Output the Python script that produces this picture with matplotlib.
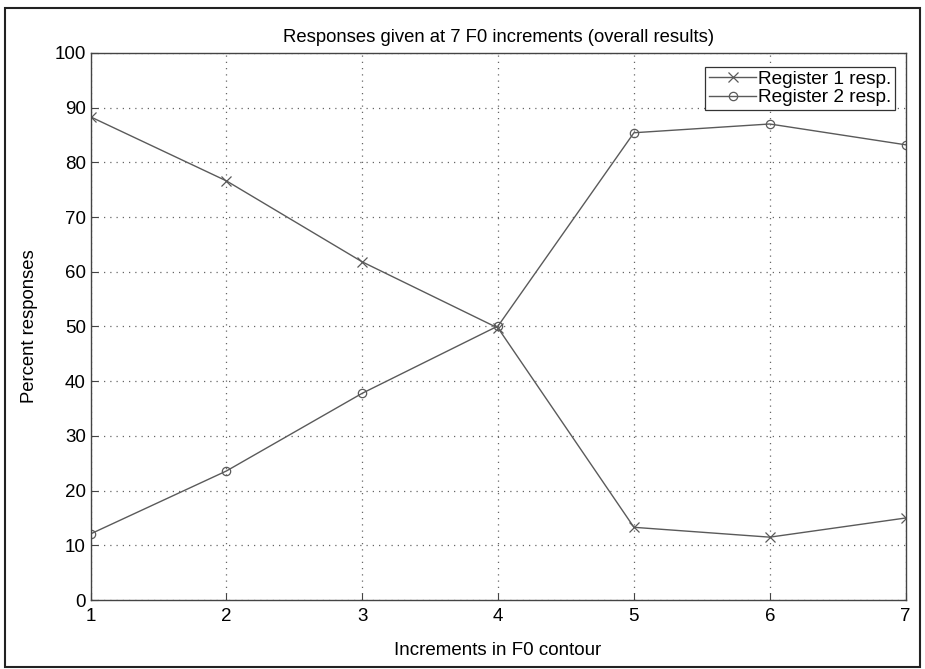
import matplotlib.pyplot as plt
from matplotlib.patches import Rectangle

plt.rcParams['font.family'] = ['Liberation Sans', 'DejaVu Sans']

# Percent responses at each F0 increment
increments = [1, 2, 3, 4, 5, 6, 7]
register1 = [88.3, 76.6, 61.8, 49.7, 13.3, 11.5, 15.0]
register2 = [12.1, 23.6, 37.8, 50.1, 85.4, 87.0, 83.2]

fig = plt.figure(figsize=(9.25, 6.69), dpi=100)
ax = fig.add_axes([0.098, 0.103, 0.881, 0.818])

line_col = '#5a5a5a'
ax.plot(increments, register1, color=line_col, lw=1.0, marker='x', ms=7,
        mew=0.9, label='Register 1 resp.')
ax.plot(increments, register2, color=line_col, lw=1.0, marker='o', ms=6,
        mfc='none', mew=0.9, label='Register 2 resp.')

ax.set_xlim(1, 7)
ax.set_ylim(0, 100)
ax.set_xticks(increments)
ax.set_yticks(range(0, 101, 10))
ax.tick_params(direction='in', length=5, labelsize=13.5, color='#444444')
ax.tick_params(axis='x', pad=6)
ax.grid(True, linestyle=(0, (1, 4)), color='#666666', lw=0.9)
for s in ax.spines.values():
    s.set_color('#444444')
    s.set_linewidth(1.0)

ax.set_title('Responses given at 7 F0 increments (overall results)', fontsize=13.3, pad=8)
ax.set_xlabel('Increments in F0 contour', fontsize=13.5, labelpad=12)
ax.set_ylabel('Percent responses', fontsize=13.3, labelpad=12)

leg = ax.legend(loc='upper right', bbox_to_anchor=(0.998, 0.99), fontsize=13.7,
                fancybox=False, framealpha=1, edgecolor='#333333',
                handlelength=2.5, handletextpad=0.1, borderpad=0.2,
                labelspacing=0.05, borderaxespad=0.45)
leg.get_frame().set_linewidth(0.9)

# page frame around the figure
fig.patches.append(Rectangle((0.0054, 0.003), 0.9892, 0.985, transform=fig.transFigure,
                             fill=False, edgecolor='#222222', lw=1.5))

fig.savefig('out.png', dpi=100)
